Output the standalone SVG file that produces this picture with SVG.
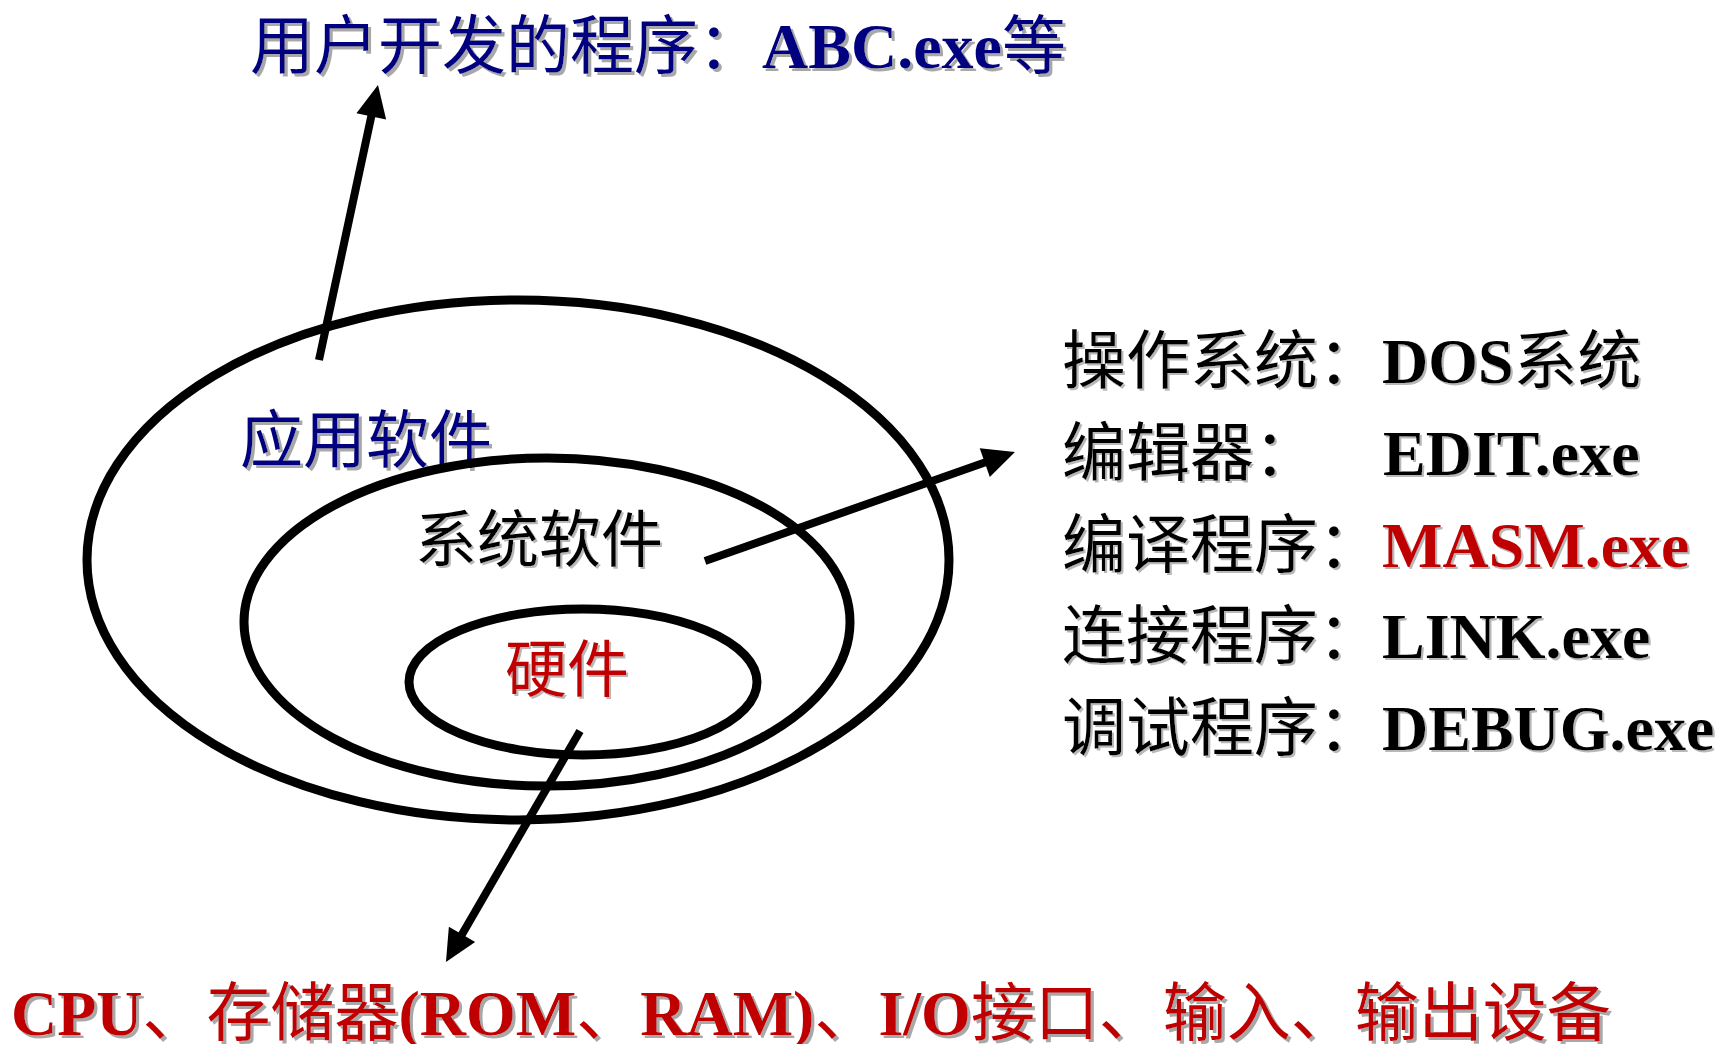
<svg xmlns="http://www.w3.org/2000/svg" width="1721" height="1044" viewBox="0 0 1721 1044">
<style>
  text { font-family: 'Noto Sans CJK SC', sans-serif; font-weight: normal; }
  .lat { font-family: 'Liberation Serif', 'Noto Sans CJK SC', serif; font-weight: bold; }
  .blue { fill: #000080; }
  .red { fill: #C00000; }
  .black { fill: #000000; }
  .ring { fill: none; stroke: #000; stroke-width: 9; }
  .arrow { fill: none; stroke: #000; stroke-width: 8; marker-end: url(#ah); }
  .sh3 { filter: url(#sh3); }
  .sh2 { filter: url(#sh2); }
</style>
<defs>
  <filter id="sh3" filterUnits="userSpaceOnUse" x="0" y="0" width="1721" height="1044">
    <feDropShadow dx="3" dy="3" stdDeviation="0.4" flood-color="#A8A8A8" flood-opacity="1"/>
  </filter>
  <filter id="sh2" filterUnits="userSpaceOnUse" x="0" y="0" width="1721" height="1044">
    <feDropShadow dx="2" dy="2" stdDeviation="0.4" flood-color="#B8B8B8" flood-opacity="1"/>
  </filter>
  <marker id="ah" markerUnits="strokeWidth" markerWidth="4" markerHeight="3.8" viewBox="0 0 4 3.8" refX="1.5" refY="1.9" orient="auto" overflow="visible">
    <path d="M0,0 L4,1.9 L0,3.8 Z" fill="#000"/>
  </marker>
</defs>
<rect width="1721" height="1044" fill="#fff"/>

<g id="title">
  <text class="blue sh3" x="250" y="68" font-size="64">用户开发的程序：<tspan class="lat">ABC.exe</tspan>等</text>
</g>

<g id="application-software">
  <ellipse class="ring" cx="518" cy="560" rx="431" ry="260"/>
  <text class="blue sh3" x="240" y="462" font-size="63">应用软件</text>
</g>

<g id="system-software">
  <ellipse class="ring" cx="547" cy="622" rx="303" ry="164"/>
  <text class="black sh2" x="415" y="562" font-size="62">系统软件</text>
</g>

<g id="hardware">
  <ellipse class="ring" cx="583" cy="682" rx="174" ry="73"/>
  <text class="red sh2" x="505" y="692" font-size="62">硬件</text>
</g>

<g id="system-software-list" font-size="64">
  <text class="black sh2" x="1062" y="383">操作系统：<tspan class="lat">DOS</tspan>系统</text>
  <text class="black sh2" x="1062" y="475">编辑器：<tspan class="lat" x="1383">EDIT.exe</tspan></text>
  <text class="black sh2" x="1062" y="567">编译程序：<tspan class="lat red">MASM.exe</tspan></text>
  <text class="black sh2" x="1062" y="658">连接程序：<tspan class="lat">LINK.exe</tspan></text>
  <text class="black sh2" x="1062" y="750">调试程序：<tspan class="lat">DEBUG.exe</tspan></text>
</g>

<g id="hardware-list">
  <text class="red sh3" x="11" y="1035" font-size="64"><tspan class="lat">CPU</tspan>、存储器<tspan class="lat">(ROM</tspan>、<tspan class="lat">RAM)</tspan>、<tspan class="lat">I/O</tspan>接口、输入、输出设备</text>
</g>

<g id="connectors">
  <line class="arrow" x1="319" y1="360" x2="373.8" y2="104.6"/>
  <line class="arrow" x1="705" y1="561" x2="996.1" y2="458.6"/>
  <line class="arrow" x1="580" y1="731" x2="456.0" y2="944.7"/>
</g>
</svg>
